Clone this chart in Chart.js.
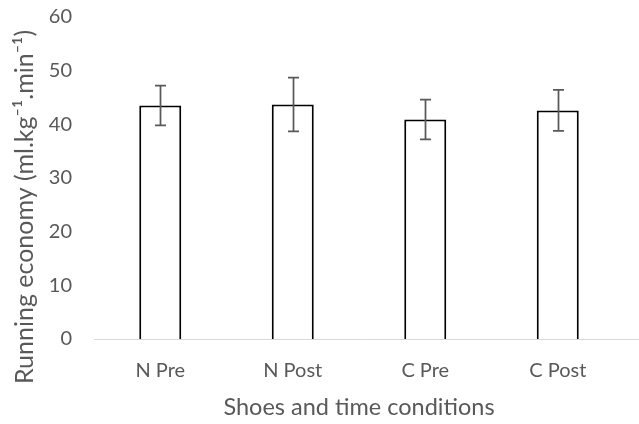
<!DOCTYPE html>
<html>
<head>
<meta charset="utf-8">
<script src="https://cdn.jsdelivr.net/npm/chart.js@4"></script>
<style>
html,body{margin:0;padding:0;background:#fff;}
#wrap{width:639px;height:424px;position:relative;}
</style>
</head>
<body>
<div id="wrap"><canvas id="c" width="639" height="424"></canvas></div>
<script>
const categories = ["N Pre", "N Post", "C Pre", "C Post"];
const means = [43.5, 43.7, 40.9, 42.6];
const errors = [3.7, 5.0, 3.7, 3.8];
const yTicks = [0, 10, 20, 30, 40, 50, 60];
const xTitle = "Shoes and time conditions";
const yTitle = "Running economy (ml.kg\u207B\u00B9.min\u207B\u00B9)";

const FONT = "Lato, 'Liberation Sans', sans-serif";

const errorBarPlugin = {
  id: 'errorBars',
  afterDatasetsDraw(chart) {
    const ctx = chart.ctx;
    const yScale = chart.scales.y;
    const meta = chart.getDatasetMeta(0);
    ctx.save();
    ctx.strokeStyle = '#595959';
    ctx.lineWidth = 1.75;
    meta.data.forEach((bar, i) => {
      const x = Math.round(bar.x) + 0.5;
      const yTop = yScale.getPixelForValue(means[i] + errors[i]);
      const yBot = yScale.getPixelForValue(means[i] - errors[i]);
      const cap = 5.5;
      ctx.beginPath();
      ctx.moveTo(x, yTop); ctx.lineTo(x, yBot);
      ctx.moveTo(x - cap, yTop); ctx.lineTo(x + cap, yTop);
      ctx.moveTo(x - cap, yBot); ctx.lineTo(x + cap, yBot);
      ctx.stroke();
    });
    ctx.restore();
  }
};

const baselinePlugin = {
  id: 'baseline',
  beforeDatasetsDraw(chart) {
    const ctx = chart.ctx;
    const y = Math.round(chart.scales.y.getPixelForValue(0)) + 0.5;
    ctx.save();
    ctx.strokeStyle = '#d9d9d9';
    ctx.lineWidth = 1;
    ctx.beginPath();
    ctx.moveTo(chart.chartArea.left, y);
    ctx.lineTo(chart.width, y);
    ctx.stroke();
    ctx.restore();
  }
};

const yTitlePlugin = {
  id: 'yTitle',
  afterDraw(chart) {
    const ctx = chart.ctx;
    ctx.save();
    ctx.translate(25, 207);
    ctx.rotate(-Math.PI / 2);
    ctx.fillStyle = '#595959';
    ctx.font = "25px " + FONT;
    ctx.textAlign = 'center';
    ctx.textBaseline = 'middle';
    ctx.fillText(yTitle, 0, 0);
    ctx.restore();
  }
};

new Chart(document.getElementById('c'), {
  type: 'bar',
  data: {
    labels: categories,
    datasets: [{
      data: means,
      backgroundColor: '#ffffff',
      borderColor: '#000000',
      borderWidth: 2,
      borderSkipped: 'bottom',
      barPercentage: 0.317,
      categoryPercentage: 1.0
    }]
  },
  options: {
    responsive: false,
    animation: false,
    devicePixelRatio: 1,
    layout: { padding: { top: 17, right: 15, left: 0, bottom: 0 } },
    plugins: { legend: { display: false }, tooltip: { enabled: false } },
    scales: {
      x: {
        grid: { display: false, drawTicks: false },
        border: { display: false },
        ticks: { color: '#595959', font: { family: FONT, size: 20 }, padding: 20 },
        title: { display: true, text: xTitle, color: '#595959', font: { family: FONT, size: 23.5 }, padding: { top: 0, bottom: 2 } },
        afterFit(scale) { scale.height = 85; scale.paddingLeft = 0; scale.paddingRight = 0; }
      },
      y: {
        min: 0, max: 60,
        afterBuildTicks(scale) { scale.ticks = yTicks.map(v => ({ value: v })); },
        grid: { display: false, drawTicks: false },
        border: { display: false },
        ticks: { color: '#595959', font: { family: FONT, size: 20 }, padding: 22 },
        afterFit(scale) { scale.width = 94; scale.paddingTop = 0; scale.paddingBottom = 0; }
      }
    }
  },
  plugins: [errorBarPlugin, baselinePlugin, yTitlePlugin]
});
</script>
</body>
</html>
